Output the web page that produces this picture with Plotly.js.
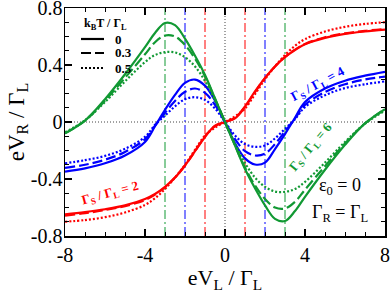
<!DOCTYPE html>
<html>
<head>
<meta charset="utf-8">
<script src="https://cdn.plot.ly/plotly-3.0.1.min.js"></script>
<style>html,body{margin:0;padding:0;background:#fff;}#chart{width:390px;height:293px;}</style>
</head>
<body>
<div id="chart"></div>
<script>
// x values (eV_L / Gamma_L)
var xVals = [-8,-7,-6,-5,-4,-3.5,-3,-2.5,-2,-1.5,-1,-0.5,0,0.5,1,1.5,2,2.5,3,3.5,4,5,6,7,8];

// Gamma_S / Gamma_L = 2 (red)
var red_T0  = [-0.648,-0.632,-0.612,-0.585,-0.540,-0.505,-0.455,-0.390,-0.305,-0.205,-0.105,-0.025,0,0.025,0.110,0.215,0.310,0.390,0.455,0.505,0.545,0.590,0.618,0.635,0.648];
var red_T3  = [-0.658,-0.640,-0.618,-0.590,-0.548,-0.510,-0.458,-0.390,-0.305,-0.205,-0.100,-0.030,0,0.030,0.105,0.210,0.308,0.390,0.457,0.508,0.548,0.595,0.622,0.640,0.652];
var red_T5  = [-0.700,-0.688,-0.668,-0.635,-0.582,-0.535,-0.470,-0.390,-0.300,-0.195,-0.095,-0.040,0,0.040,0.095,0.195,0.300,0.390,0.470,0.535,0.582,0.635,0.668,0.688,0.700];

// Gamma_S / Gamma_L = 4 (blue)
var blue_T0 = [-0.348,-0.325,-0.290,-0.235,-0.140,-0.030,0.085,0.190,0.275,0.298,0.255,0.150,0,-0.150,-0.255,-0.298,-0.285,-0.190,-0.085,0.030,0.140,0.235,0.290,0.325,0.352];
var blue_T3 = [-0.322,-0.300,-0.265,-0.210,-0.120,-0.025,0.065,0.148,0.212,0.235,0.205,0.120,0,-0.120,-0.205,-0.235,-0.222,-0.155,-0.065,0.025,0.120,0.210,0.265,0.298,0.318];
var blue_T5 = [-0.290,-0.268,-0.238,-0.188,-0.105,-0.020,0.045,0.110,0.160,0.174,0.155,0.095,0,-0.095,-0.155,-0.174,-0.165,-0.115,-0.048,0.020,0.105,0.188,0.238,0.265,0.285];

// Gamma_S / Gamma_L = 6 (green)
var green_T0 = [-0.080,0.010,0.160,0.335,0.525,0.625,0.695,0.680,0.585,0.465,0.330,0.166,0,-0.166,-0.330,-0.465,-0.585,-0.680,-0.695,-0.625,-0.525,-0.335,-0.160,-0.010,0.090];
var green_T3 = [-0.080,0.010,0.150,0.310,0.475,0.560,0.607,0.600,0.540,0.445,0.320,0.163,0,-0.163,-0.320,-0.445,-0.540,-0.600,-0.607,-0.560,-0.475,-0.310,-0.150,-0.010,0.090];
var green_T5 = [-0.072,0.012,0.140,0.285,0.420,0.470,0.490,0.488,0.455,0.390,0.288,0.152,0,-0.152,-0.288,-0.390,-0.455,-0.488,-0.490,-0.470,-0.420,-0.285,-0.140,-0.012,0.080];

var gammaS = [2, 4, 6];
var kT = ['0', '0.3', '0.5'];
var xTicks = [-8, -4, 0, 4, 8];
var yTicks = [-0.8, -0.4, 0, 0.4, 0.8];
var yTickText = ['-0.8', '-0.4', '0', '0.4', '0.8'];

var colors = ['#ff0000', '#0000ff', '#119933'];
var dashes = ['solid', '10px,4px', '2px,2px'];
var series = [[red_T0, red_T3, red_T5], [blue_T0, blue_T3, blue_T5], [green_T0, green_T3, green_T5]];

var FONT = '"Liberation Serif", "Times New Roman", Times, serif';
var traces = [];

// vertical dash-dot markers at eV_L = +/- Gamma_S/2
gammaS.forEach(function (g, i) {
  [-g / 2, g / 2].forEach(function (xv) {
    traces.push({x: [xv, xv], y: [-0.8, 0.8], mode: 'lines', showlegend: false, hoverinfo: 'skip',
      line: {color: colors[i], width: 1, dash: '9px,3px,2px,3px'}});
  });
});
// zero reference lines
traces.push({x: [0, 0], y: [-0.8, 0.8], mode: 'lines', showlegend: false, line: {color: '#444', width: 1, dash: '1px,2px'}});
traces.push({x: [-8, 8], y: [0, 0], mode: 'lines', showlegend: false, line: {color: '#444', width: 1, dash: '1px,2px'}});

series.forEach(function (grp, i) {
  grp.forEach(function (ys, j) {
    traces.push({x: xVals, y: ys, mode: 'lines', showlegend: false,
      line: {color: colors[i], width: 2.2, dash: dashes[j], shape: 'spline', smoothing: 1}});
  });
});

var px = function (p) { return (p - 65) / 320; };
var py = function (p) { return (236 - p) / 228; };

var shapes = [];
var legY = [39, 53, 68];
var annotations = [];
kT.forEach(function (k, j) {
  shapes.push({type: 'line', xref: 'paper', yref: 'paper', x0: px(81), x1: px(104), y0: py(legY[j]), y1: py(legY[j]),
    line: {color: '#000', width: 2.2, dash: dashes[j]}});
  annotations.push({xref: 'paper', yref: 'paper', x: px(114), y: py(legY[j]), xanchor: 'left', yanchor: 'middle',
    text: '<b>' + k + '</b>', showarrow: false, borderpad: 0, font: {family: FONT, size: 13, color: '#000'}});
});
annotations.push({xref: 'paper', yref: 'paper', x: px(105), y: py(24), xanchor: 'center', yanchor: 'middle',
  text: '<b>k<sub>B</sub>T / Γ<sub>L</sub></b>', showarrow: false, borderpad: 0, font: {family: FONT, size: 12, color: '#000'}});

var labelPos = [[-5.75, -0.5, -15], [4.65, 0.26, -28], [4.3, -0.18, -50]];
gammaS.forEach(function (g, i) {
  annotations.push({x: labelPos[i][0], y: labelPos[i][1], textangle: labelPos[i][2], showarrow: false,
    text: '<b>Γ<sub>S</sub> / Γ<sub>L</sub> = ' + g + '</b>', font: {family: FONT, size: 13, color: colors[i]}});
});
annotations.push({x: 5.75, y: -0.45, showarrow: false, text: 'ε<sub>0</sub> = 0', font: {family: FONT, size: 18, color: '#000'}});
annotations.push({x: 5.75, y: -0.64, showarrow: false, text: 'Γ<sub>R</sub> = Γ<sub>L</sub>', font: {family: FONT, size: 18, color: '#000'}});

var axisCommon = {
  showgrid: false, zeroline: false, showline: true, linecolor: '#000', linewidth: 1.5, mirror: 'allticks',
  ticks: 'inside', ticklen: 7, tickwidth: 1.2, tickcolor: '#000', ticklabeloverflow: 'allow',
  tickfont: {family: FONT, size: 20, color: '#000'}
};

var layout = {
  width: 390, height: 293,
  margin: {l: 65, r: 5, t: 8, b: 57},
  paper_bgcolor: '#fff', plot_bgcolor: '#fff',
  showlegend: false,
  xaxis: Object.assign({}, axisCommon, {
    range: [-8, 8], tickvals: xTicks, ticktext: xTicks.map(String),
    minor: {ticks: 'inside', dtick: 1, ticklen: 4, tickwidth: 1, tickcolor: '#000'},
    title: {text: 'eV<sub>L</sub> / Γ<sub>L</sub>', font: {family: FONT, size: 22, color: '#000'}, standoff: 2}
  }),
  yaxis: Object.assign({}, axisCommon, {
    range: [-0.8, 0.8], tickvals: yTicks, ticktext: yTickText, ticklabelstandoff: -3,
    minor: {ticks: 'inside', dtick: 0.1, ticklen: 4, tickwidth: 1, tickcolor: '#000'},
    title: {text: 'eV<sub>R</sub> / Γ<sub>L</sub>', font: {family: FONT, size: 23, color: '#000'}, standoff: 0}
  }),
  shapes: shapes,
  annotations: annotations
};

Plotly.newPlot('chart', traces, layout, {displayModeBar: false, staticPlot: true});
</script>
</body>
</html>
